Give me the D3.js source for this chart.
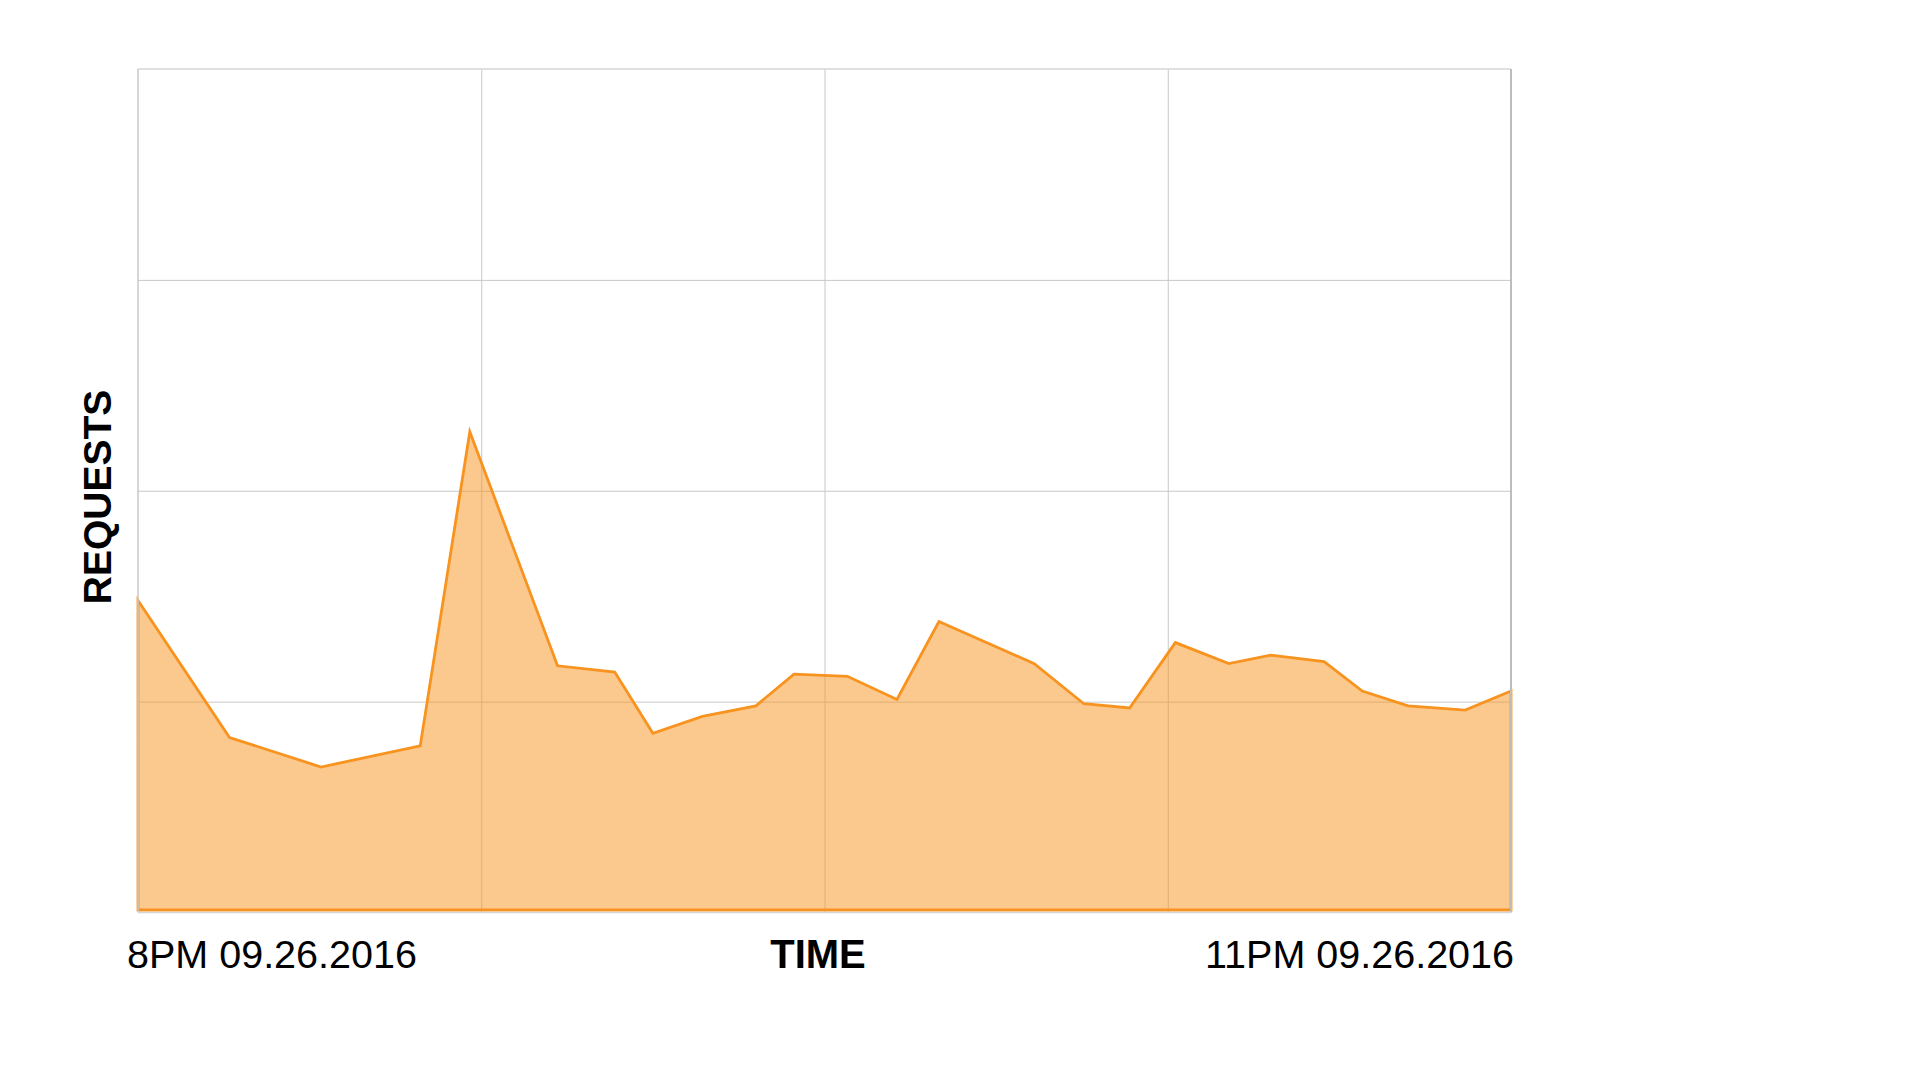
<!DOCTYPE html>
<html>
<head>
<meta charset="utf-8">
<script src="https://cdn.jsdelivr.net/npm/d3@7"></script>
<style>
  html, body { margin: 0; padding: 0; background: #fff; }
  svg { display: block; }
  text { font-family: "Liberation Sans", Arial, Helvetica, sans-serif; fill: #000; }
</style>
</head>
<body>
<svg id="chart" width="1920" height="1080"></svg>
<script>
// ---- data ----
const times = ["20:00:00","20:12:00","20:24:00","20:37:00","20:43:30","20:55:00","21:02:30","21:07:30",
               "21:14:00","21:21:00","21:26:00","21:33:00","21:39:30","21:45:00","21:57:30","22:04:00",
               "22:10:00","22:16:00","22:23:00","22:28:30","22:35:30","22:40:30","22:46:30","22:54:00","23:00:00"];
const requests = [148, 83, 69, 79, 228, 117, 114, 85, 93, 98, 113, 112, 101, 138, 118, 99,
                  97, 128, 118, 122, 119, 105, 98, 96, 105];
const yTicks = [0, 100, 200, 300, 400];
const xDomain = ["20:00:00", "23:00:00"];
const xTickLabels = ["8PM 09.26.2016", "11PM 09.26.2016"];
const xTitle = "TIME";
const yTitle = "REQUESTS";

// ---- layout ----
const plotLeft = 138, plotRight = 1511, plotTop = 69, plotBottom = 912.5;
const plotWidth = plotRight - plotLeft;
const parse = d3.timeParse("%Y-%m-%d %H:%M:%S");
const toDate = t => parse("2016-09-26 " + t);
const data = times.map((t, i) => ({t: toDate(t), v: requests[i]}));

const svg = d3.select("#chart");
const g = svg.append("g").attr("transform", `translate(${plotLeft},0)`);

const x = d3.scaleTime().domain(xDomain.map(toDate)).range([0, plotWidth]);
const y = d3.scaleLinear().domain([0, 400]).range([plotBottom, plotTop]);

// gridlines
const d0 = x.domain()[0].getTime(), d1 = x.domain()[1].getTime();
const xGridVals = d3.range(1, 4).map(k => new Date(d0 + (d1 - d0) * k / 4));
g.append("g").attr("class", "grid-x")
  .attr("transform", `translate(0,${y(0)})`)
  .call(d3.axisBottom(x).tickValues(xGridVals).tickSize(-(y(0) - y(400))).tickFormat(""))
  .call(s => s.select(".domain").remove())
  .call(s => s.selectAll("line").attr("stroke", "#c8c8c8").attr("stroke-width", 1));
g.append("g").attr("class", "grid-y")
  .call(d3.axisLeft(y).tickValues(yTicks.slice(1, -1)).tickSize(-plotWidth).tickFormat(""))
  .call(s => s.select(".domain").remove())
  .call(s => s.selectAll("line").attr("stroke", "#c8c8c8").attr("stroke-width", 1));

// area (baseline kept just inside the frame)
const area = d3.area().x(d => x(d.t)).y0(y(0) - 2.5).y1(d => y(d.v));
g.append("path").datum(data)
  .attr("d", area)
  .attr("fill", "#f7931e").attr("fill-opacity", 0.5)
  .attr("stroke", "#f7931e").attr("stroke-width", 2.8).attr("stroke-linejoin", "miter");

// frame
g.append("line").attr("x1", 0).attr("x2", plotWidth).attr("y1", y(400)).attr("y2", y(400))
  .attr("stroke", "#d6d6d6").attr("stroke-width", 1.5);
g.append("line").attr("x1", 0).attr("x2", 0).attr("y1", y(400)).attr("y2", y(0))
  .attr("stroke", "#c8c8c8").attr("stroke-width", 1.5);
g.append("line").attr("x1", plotWidth).attr("x2", plotWidth).attr("y1", y(400)).attr("y2", y(0))
  .attr("stroke", "#bdbdbd").attr("stroke-width", 2);
g.append("line").attr("x1", 0).attr("x2", plotWidth).attr("y1", y(0)).attr("y2", y(0))
  .attr("stroke", "#d6d6d6").attr("stroke-width", 1.5);

// labels
svg.append("text").attr("x", 127).attr("y", 968)
  .attr("font-size", 39.5).text(xTickLabels[0]);
svg.append("text").attr("x", 1514).attr("y", 968).attr("text-anchor", "end")
  .attr("font-size", 39.5).text(xTickLabels[1]);
svg.append("text").attr("x", 818).attr("y", 968).attr("text-anchor", "middle")
  .attr("font-size", 40).attr("font-weight", "bold").text(xTitle);
svg.append("text")
  .attr("transform", "translate(111,497) rotate(-90)")
  .attr("text-anchor", "middle")
  .attr("font-size", 39).attr("font-weight", "bold").text(yTitle);
</script>
</body>
</html>
